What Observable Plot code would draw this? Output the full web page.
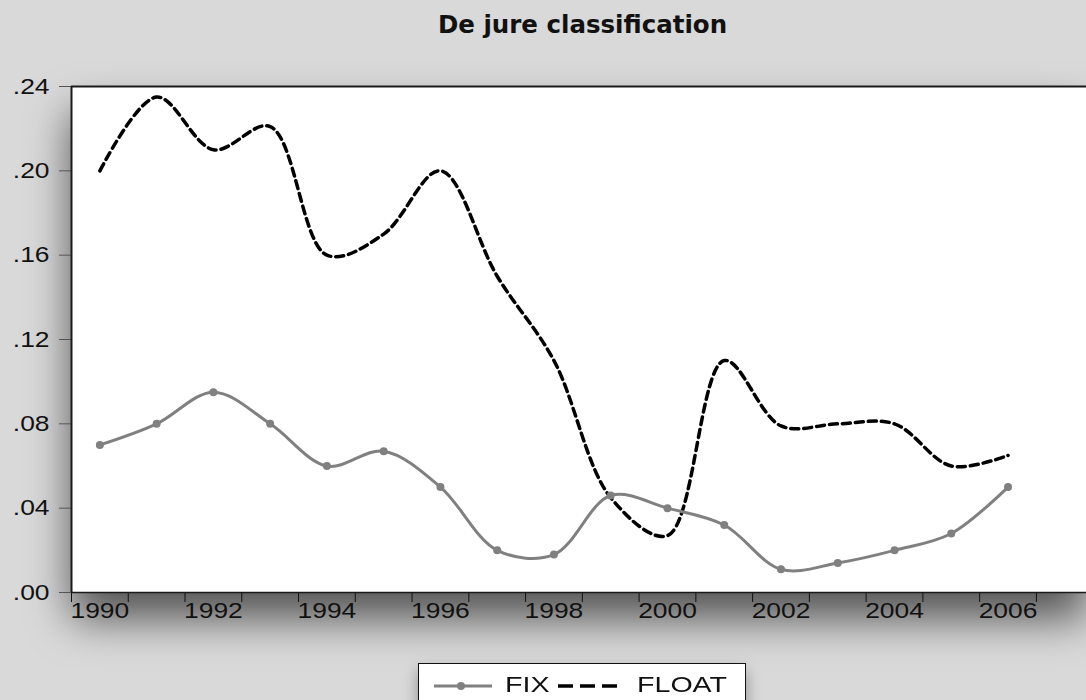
<!DOCTYPE html>
<html>
<head>
<meta charset="utf-8">
<script src="https://cdn.jsdelivr.net/npm/d3@7"></script>
<script src="https://cdn.jsdelivr.net/npm/@observablehq/plot@0.6"></script>
<style>
  html, body { margin: 0; padding: 0; }
  body { width: 1086px; height: 700px; overflow: hidden; background: #d9d9d9; position: relative; font-family: "Liberation Sans", Arial, sans-serif; }
  #title { height: 50px; line-height: 50px; text-align: center; font-family: "DejaVu Sans", sans-serif; font-weight: bold; font-size: 24.5px; color: #111; padding-left: 79px; box-sizing: border-box; width: 1086px; }
  #chart svg { overflow: visible; display: block; }
  #legend { position: absolute; left: 418px; top: 663px; width: 328px; height: 50px; background: #fff; border: 1.5px solid #111; box-shadow: 0 8px 14px rgba(0,0,0,0.35); box-sizing: border-box; font-size: 22px; color: #111; }
  #legend .lab { position: absolute; top: 8px; display: inline-block; transform: scaleX(1.3); transform-origin: left center; }
  #legend svg { position: absolute; top: 8px; }
</style>
</head>
<body>
<div id="title">De jure classification</div>
<div id="chart"></div>
<div id="legend"></div>
<script>
const years = [1990,1991,1992,1993,1994,1995,1996,1997,1998,1999,2000,2001,2002,2003,2004,2005,2006];
const fix   = [0.070,0.080,0.095,0.080,0.060,0.067,0.050,0.020,0.018,0.046,0.040,0.032,0.011,0.014,0.020,0.028,0.050];
const float = [0.200,0.235,0.210,0.221,0.160,0.170,0.200,0.150,0.110,0.045,0.027,0.110,0.079,0.080,0.080,0.060,0.065];
const yTicks = [0, 0.04, 0.08, 0.12, 0.16, 0.20, 0.24];
const xLabelYears = [1990,1992,1994,1996,1998,2000,2002,2004,2006];
const xTickYears = d3.range(1990, 2008);

const fixData = years.map((y, i) => ({t: y + 0.5, v: fix[i]}));
const floatData = years.map((y, i) => ({t: y + 0.5, v: float[i]}));

const fmtY = d => d3.format(".2f")(d).replace(/^0/, "");

const chart = Plot.plot({
  width: 1086,
  height: 590,
  marginLeft: 71,
  marginRight: 0,
  marginTop: 36,
  marginBottom: 48,
  style: {background: "transparent", fontFamily: "Liberation Sans, Arial, sans-serif", fontSize: "22px", color: "#111", overflow: "visible"},
  x: {domain: [1990, 1990 + 1015 / 56.76], axis: null, label: null},
  y: {domain: [0, 0.24], axis: null, label: null},
  marks: [
    Plot.frame({fill: "white", stroke: null, className: "pframe"}),
    Plot.axisY({ticks: yTicks, tickFormat: fmtY, tickSize: 12, tickPadding: 10, stroke: "#555", fontSize: 22, fill: "#111", label: null}),
    Plot.axisX({ticks: xTickYears, tickFormat: () => "", tickSize: 10, stroke: "#111", label: null}),
    Plot.axisX({ticks: xLabelYears.map(y => y + 0.5), tickFormat: d => String(d - 0.5), tickSize: 0, tickPadding: 10, fontSize: 22, fill: "#111", label: null}),
    Plot.ruleY([0.24], {stroke: "#1a1a1a", strokeWidth: 2}),
    Plot.ruleY([0], {stroke: "#1a1a1a", strokeWidth: 1.5}),
    Plot.ruleX([1990], {stroke: "#1a1a1a", strokeWidth: 2}),
    Plot.line(floatData, {x: "t", y: "v", curve: "catmull-rom", stroke: "#000", strokeWidth: 3.5, strokeDasharray: "8,5"}),
    Plot.line(fixData, {x: "t", y: "v", curve: "catmull-rom", stroke: "#808080", strokeWidth: 3}),
    Plot.dot(fixData, {x: "t", y: "v", r: 4, fill: "#808080", stroke: null})
  ]
});

// drop shadow under the plotting frame
const ns = "http://www.w3.org/2000/svg";
const defs = document.createElementNS(ns, "defs");
defs.innerHTML = '<filter id="sh" x="-20%" y="-25%" width="140%" height="160%"><feDropShadow dx="0" dy="26" stdDeviation="22" flood-color="#000" flood-opacity="0.62"/></filter>';
chart.insertBefore(defs, chart.firstChild);
const fr = chart.querySelector(".pframe") || chart.querySelector('g[aria-label="frame"]');
if (fr) fr.setAttribute("filter", "url(#sh)");

// horizontally widen the tick labels (the reference glyphs are stretched)
chart.querySelectorAll('g[aria-label="x-axis tick label"] text, g[aria-label="y-axis tick label"] text').forEach(t => {
  const tr = t.getAttribute("transform");
  if (tr) t.setAttribute("transform", tr + " scale(1.2,1)");
});

document.getElementById("chart").appendChild(chart);

// legend
const lg = document.getElementById("legend");
lg.innerHTML =
  '<svg style="left:13px" width="62" height="26"><line x1="2" y1="14" x2="60" y2="14" stroke="#808080" stroke-width="3"/><circle cx="29" cy="14" r="4" fill="#808080"/></svg>' +
  '<span class="lab" style="left:86px">FIX</span>' +
  '<svg style="left:139px" width="62" height="26"><line x1="0" y1="14" x2="59" y2="14" stroke="#000" stroke-width="3.5" stroke-dasharray="15,7"/></svg>' +
  '<span class="lab" style="left:218px">FLOAT</span>';
</script>
</body>
</html>
